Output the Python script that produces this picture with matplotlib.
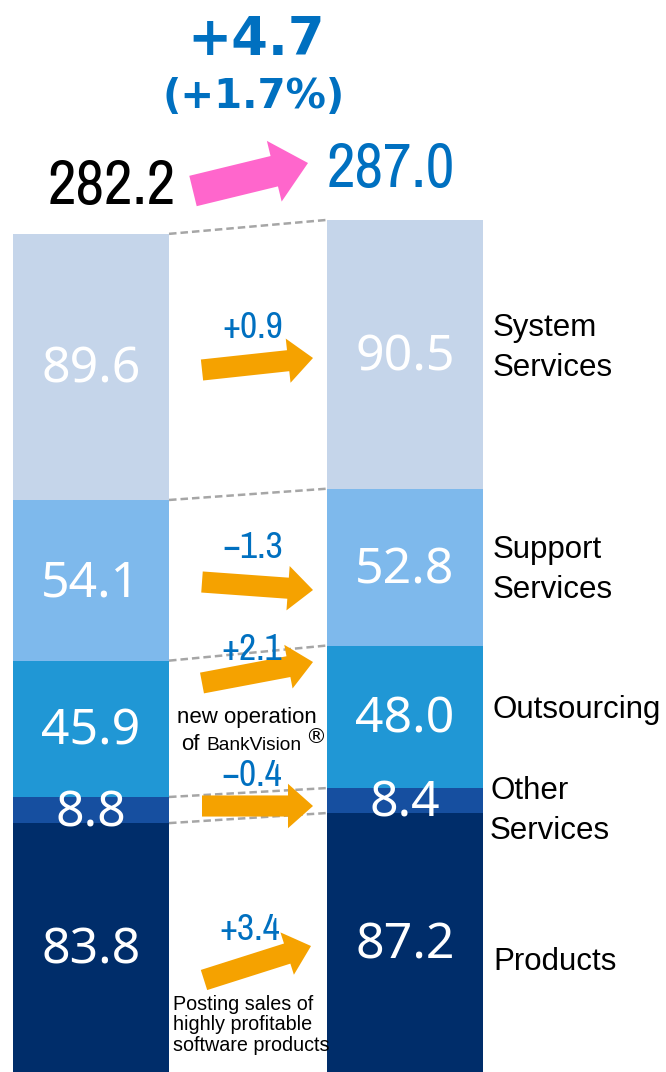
import matplotlib
matplotlib.use("Agg")
import matplotlib.pyplot as plt
from matplotlib import font_manager as fm
import numpy as np

# data (billions of yen) -- bottom to top
segments = ["Products", "Other\nServices", "Outsourcing", "Support\nServices", "System\nServices"]
prev_values = [83.8, 8.8, 45.9, 54.1, 89.6]
curr_values = [87.2, 8.4, 48.0, 52.8, 90.5]
changes = ["+3.4", "\u22120.4", "+2.1", "\u22121.3", "+0.9"]
prev_total = "282.2"
curr_total = "287.0"
total_change = "+4.7"
total_change_pct = "(+1.7%)"

colors = ["#002D6A", "#164FA0", "#2097D5", "#7EB9EC", "#C5D5EA"]
BLUE = "#0070C0"
ORANGE = "#F5A200"
PINK = "#FF66CC"


# look for any narrow / condensed face that is installed
def find_narrow():
    best = None
    for f in fm.fontManager.ttflist:
        n = f.name.lower()
        fn = f.fname.lower()
        narrow = ("narrow" in n or "condensed" in n or "condensed" in fn
                  or f.stretch in ("condensed", "semi-condensed", 500))
        if not narrow or "italic" in fn or "oblique" in fn:
            continue
        if f.weight not in (400, "normal", "regular", "Regular"):
            continue
        if "semi" in fn or "extra" in fn or "ultra" in fn:
            continue
        score = 0 if "narrow" in n else (1 if "dejavu" in n else 2)
        if best is None or score < best[0]:
            best = (score, f)
    if best is None:
        return fm.FontProperties(family="DejaVu Sans", stretch="condensed")
    return fm.FontProperties(fname=best[1].fname)


NARROW = find_narrow()

W, H = 666, 1072
SCALE = 2.97          # pixels per unit on the y axis
X0, DX = 91, 314      # pixel centre of first bar, pixels per bar step


def px(x, y):
    """pixel position (from top-left) -> data coords"""
    return (x - X0) / DX, (H - y) / SCALE


fig = plt.figure(figsize=(W / 100, H / 100), dpi=100)
ax = fig.add_axes([0, 0, 1, 1])
ax.set_xlim(-X0 / DX, (W - X0) / DX)
ax.set_ylim(0, H / SCALE)
ax.axis("off")

bar_w = 0.497
prev_bottom = np.concatenate([[0], np.cumsum(prev_values)[:-1]])
curr_bottom = np.concatenate([[0], np.cumsum(curr_values)[:-1]])
prev_top = np.cumsum(prev_values)
curr_top = np.cumsum(curr_values)

ax.bar(0, prev_values, bottom=prev_bottom, width=bar_w, color=colors, zorder=2)
ax.bar(1, curr_values, bottom=curr_bottom, width=bar_w, color=colors, zorder=2)

# dashed connectors between segment tops
for a, b in zip(prev_top, curr_top):
    ax.plot([bar_w / 2, 1 - bar_w / 2], [a, b], ls="--", color="#A6A6A6",
            lw=1.8, dashes=(3, 1.6), zorder=1)

# segment values
for i in range(len(segments)):
    ax.text(0, prev_bottom[i] + prev_values[i] / 2 - 1, f"{prev_values[i]:.1f}",
            ha="center", va="center", color="white", fontsize=36,
            family="Noto Sans", zorder=3)
    ax.text(1, curr_bottom[i] + curr_values[i] / 2 - 1, f"{curr_values[i]:.1f}",
            ha="center", va="center", color="white", fontsize=36,
            family="Noto Sans", zorder=3)

# segment names on the right
name_y = [962, 811, 710, 570, 348]
name_x = [493, 490, 493, 493, 493]
for name, x, y in zip(segments, name_x, name_y):
    ax.text(*px(x, y), name, ha="left", va="center", fontsize=22.5,
            family="Liberation Sans", linespacing=1.4)

# orange change arrows and labels (tail, tip, label centre in pixels)
arrows = [
    ((204, 980), (311, 946), (250, 929)),
    ((202, 806), (313, 806), (252, 775)),
    ((202, 683), (313, 662), (252, 650)),
    ((202, 582), (313, 590), (253, 548)),
    ((202, 370), (313, 358), (253, 328)),
]
for ch, (tail, tip, lab) in zip(changes, arrows):
    ax.annotate("", xy=px(*tip), xytext=px(*tail),
                arrowprops=dict(arrowstyle="simple,tail_width=0.38,head_width=0.8,head_length=0.45",
                                color=ORANGE, mutation_scale=40, shrinkA=0, shrinkB=0, lw=0),
                zorder=4)
    ax.text(*px(*lab), ch, ha="center", va="center", color=BLUE, fontsize=27,
            fontproperties=NARROW, zorder=5)

# notes
ax.text(*px(247, 718), "new operation", ha="center", va="center", fontsize=16,
        family="Liberation Sans")
ax.text(*px(181, 744), "of", ha="left", va="center", fontsize=16,
        family="Liberation Sans")
ax.text(*px(206, 745), "BankVision", ha="left", va="center", fontsize=13.8,
        family="Liberation Sans")
ax.text(*px(316, 737), "\u00AE", ha="center", va="center", fontsize=15,
        family="DejaVu Sans")
ax.text(*px(173, 1025), "Posting sales of\nhighly profitable\nsoftware products",
        ha="left", va="center", fontsize=14.2, family="Liberation Sans",
        linespacing=1.1)

# totals
ax.text(*px(112, 186), prev_total, ha="center", va="center", fontsize=45,
        fontproperties=NARROW, color="black")
ax.text(*px(391, 170), curr_total, ha="center", va="center", fontsize=45,
        fontproperties=NARROW, color=BLUE)
ax.annotate("", xy=px(308, 163), xytext=px(193, 191),
            arrowprops=dict(arrowstyle="simple,tail_width=0.45,head_width=0.9,head_length=0.5",
                            color=PINK, mutation_scale=50, shrinkA=0, shrinkB=0, lw=0))
ax.text(*px(256, 40), total_change, ha="center", va="center", fontsize=38,
        family="DejaVu Sans", weight="bold", color=BLUE)
ax.text(*px(254, 97), total_change_pct, ha="center", va="center", fontsize=29,
        family="DejaVu Sans", weight="bold", color=BLUE)

fig.savefig("out.png", dpi=100)
